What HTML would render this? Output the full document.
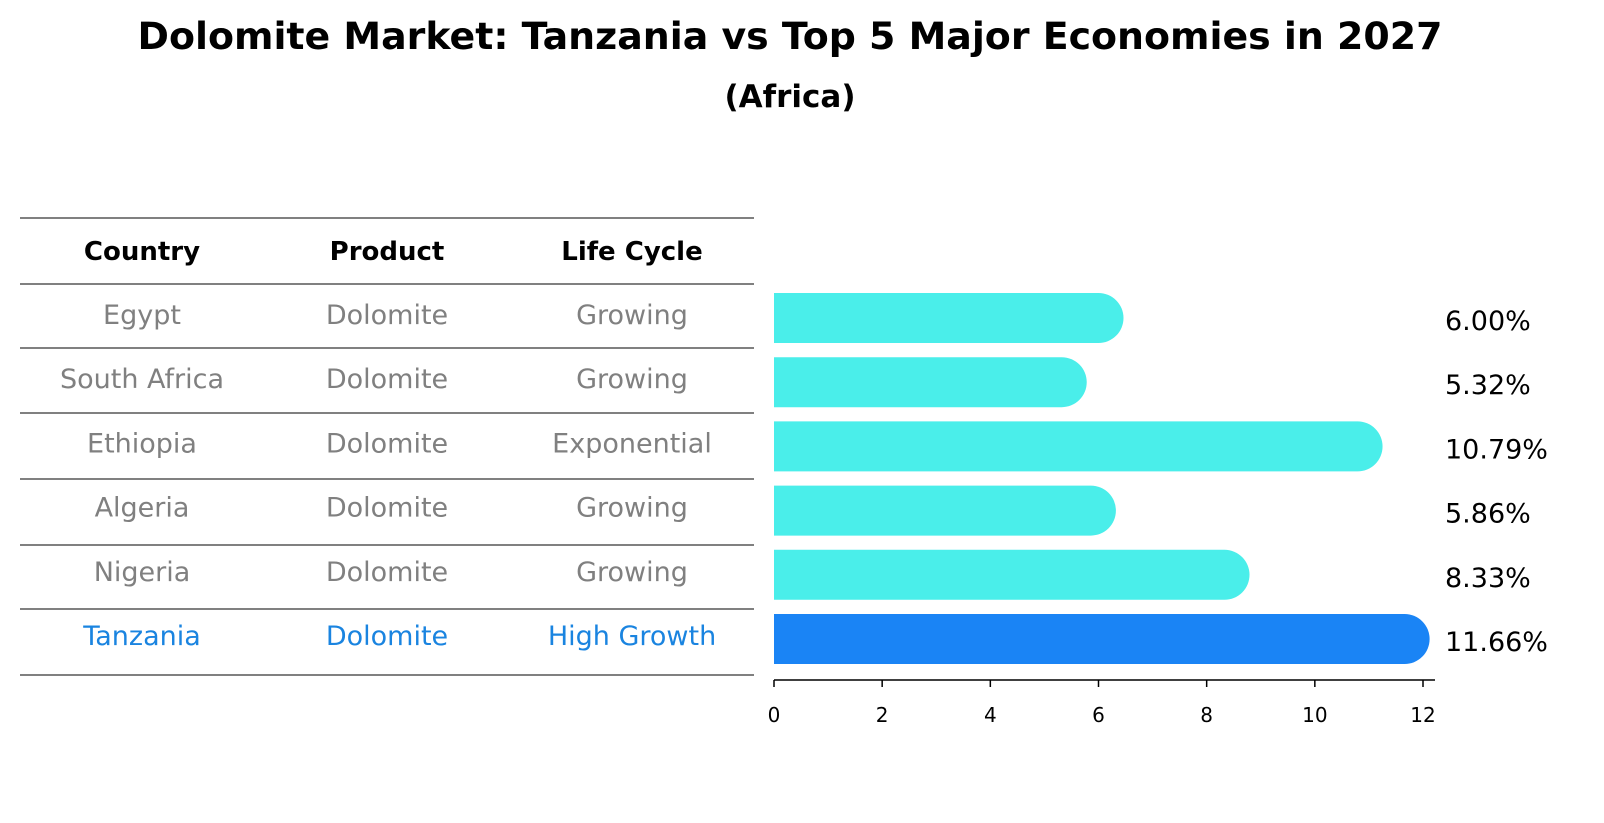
<!DOCTYPE html>
<html><head><meta charset="utf-8"><style>
body{margin:0;background:#fff;font-family:"Liberation Sans","DejaVu Sans",sans-serif;overflow:hidden}
svg text{font-family:"DejaVu Sans","Liberation Sans",sans-serif}
</style></head><body>
<svg id="c" width="1604" height="823" xmlns="http://www.w3.org/2000/svg" style="display:block">
<text x="790" y="49" text-anchor="middle" font-size="37" font-weight="bold" textLength="1305" lengthAdjust="spacingAndGlyphs">Dolomite Market: Tanzania vs Top 5 Major Economies in 2027</text>
<text x="790" y="107" text-anchor="middle" font-size="31" font-weight="bold">(Africa)</text>
<g id="table"></g>
<g id="bars"></g>
</svg>
<script>
const countries=["Egypt","South Africa","Ethiopia","Algeria","Nigeria","Tanzania"];
const products=["Dolomite","Dolomite","Dolomite","Dolomite","Dolomite","Dolomite"];
const lifeCycles=["Growing","Growing","Exponential","Growing","Growing","High Growth"];
const values=[6.00,5.32,10.79,5.86,8.33,11.66];
const ticks=[0,2,4,6,8,10,12];
const NS="http://www.w3.org/2000/svg";
function mk(t,a,p){const e=document.createElementNS(NS,t);for(const k in a)e.setAttribute(k,a[k]);p.appendChild(e);return e;}
const x=v=>774+v*(1423-774)/12;
const rowY=i=>317+i*64.2;
const tb=document.getElementById('table'),bg=document.getElementById('bars');
const lines=[218,284,348,413,479,545,609,675];
lines.forEach((y,i)=>{const l=mk('line',{x1:20,x2:754,y1:y,y2:y,stroke:'#000','stroke-width':1},tb);

});
const cols=[142,387,632];
["Country","Product","Life Cycle"].forEach((h,j)=>{const t=mk('text',{x:cols[j],y:260,'text-anchor':'middle','font-size':26,'font-weight':'bold'},tb);t.textContent=h;

});
countries.forEach((c,i)=>{const hl=i===countries.length-1;const col=hl?'#1a84e0':'#808080';
[c,products[i],lifeCycles[i]].forEach((s,j)=>{const t=mk('text',{x:cols[j],y:rowY(i)+7,'text-anchor':'middle','font-size':27,fill:col},tb);t.textContent=s;

});
const y=rowY(i)+1,h=50,r=25,x0=x(0),x1=x(values[i]);
const p=mk('path',{d:`M${x0},${y-h/2} L${x1},${y-h/2} A${r},${r} 0 0 1 ${x1},${y+h/2} L${x0},${y+h/2} Z`,fill:hl?'#1a84f5':'#4aeeea'},bg);


const vt=mk('text',{x:1445,y:y+12,'font-size':27},bg);vt.textContent=values[i].toFixed(2)+'%';


});
const ax=mk('line',{x1:774,x2:1435,y1:680,y2:680,stroke:'#000','stroke-width':1.5},bg);


ticks.forEach(v=>{const l=mk('line',{x1:x(v),x2:x(v),y1:680,y2:687,stroke:'#000','stroke-width':1.5},bg);


const t=mk('text',{x:x(v),y:722,'text-anchor':'middle','font-size':20},bg);t.textContent=v;

});
</script>
</body></html>
